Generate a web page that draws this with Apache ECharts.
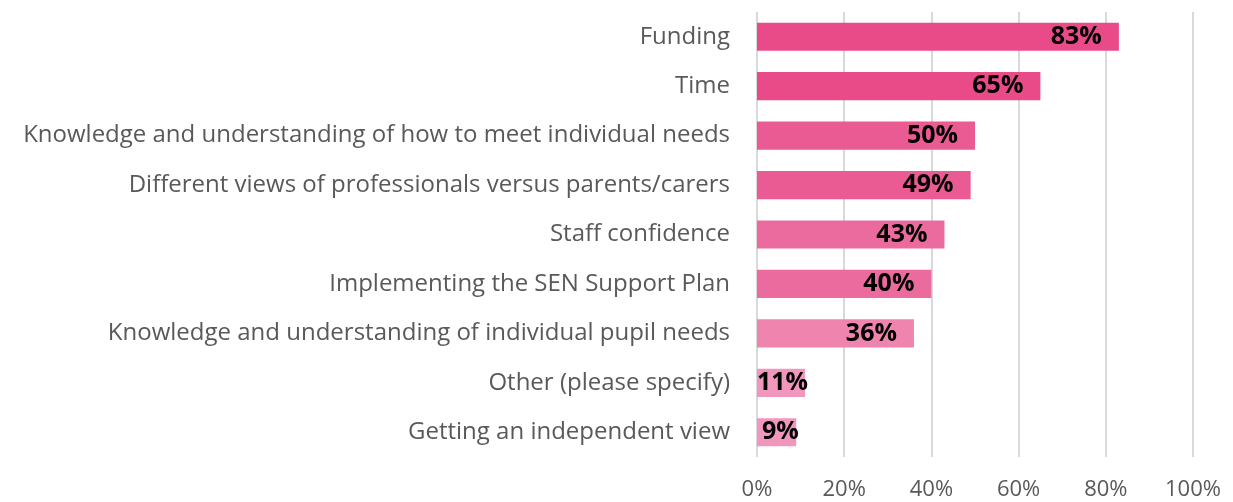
<!DOCTYPE html>
<html>
<head>
<meta charset="utf-8">
<script src="https://cdn.jsdelivr.net/npm/echarts@6/dist/echarts.min.js"></script>
<style>
  html, body { margin: 0; padding: 0; background: #fff; }
  #chart { width: 1233px; height: 502px; }
</style>
</head>
<body>
<div id="chart"></div>
<script>
// challenges, top to bottom
const categories = [
  'Funding',
  'Time',
  'Knowledge and understanding of how to meet individual needs',
  'Different views of professionals versus parents/carers',
  'Staff confidence',
  'Implementing the SEN Support Plan',
  'Knowledge and understanding of individual pupil needs',
  'Other (please specify)',
  'Getting an independent view'
];
const percents = [83, 65, 50, 49, 43, 40, 36, 11, 9];
const xTicks = [0, 20, 40, 60, 80, 100];

// pinks get lighter as the share drops
const barColors = ['#E84B88', '#E84B88', '#EA5B93', '#EA5B93', '#EC6B9E', '#EC6B9E', '#EF84AF', '#F196BC', '#F196BC'];

const chart = echarts.init(document.getElementById('chart'));

const option = {
  animation: false,
  grid: { left: 757, right: 40, top: 12, bottom: 45, containLabel: false },
  xAxis: {
    type: 'value',
    min: xTicks[0],
    max: xTicks[xTicks.length - 1],
    interval: 20,
    axisLine: { show: false },
    axisTick: { show: false },
    splitLine: { lineStyle: { color: '#D9D9D9', width: 2 } },
    axisLabel: {
      margin: 22,
      color: '#595959',
      fontFamily: 'Open Sans',
      fontSize: 22,
      formatter: v => v + '%'
    }
  },
  yAxis: {
    type: 'category',
    inverse: true,
    data: categories,
    axisLine: { show: false },
    axisTick: { show: false },
    axisLabel: {
      margin: 27,
      color: '#595959',
      fontFamily: 'Open Sans',
      fontSize: 24,
      padding: [0, 0, 9, 0]
    }
  },
  series: [{
    type: 'bar',
    barCategoryGap: '43%',
    data: percents.map((v, i) => ({
      value: v,
      itemStyle: { color: barColors[i] },
      label: v < 20 ? { position: 'insideLeft', distance: v < 10 ? 5 : 0 } : undefined
    })),
    label: {
      show: true,
      position: 'insideRight',
      distance: 17,
      color: '#000',
      fontFamily: 'Open Sans',
      fontWeight: 'bold',
      fontSize: 25,
      padding: [3, 0, 0, 0],
      formatter: p => p.value + '%'
    }
  }]
};

chart.setOption(option);
</script>
</body>
</html>
